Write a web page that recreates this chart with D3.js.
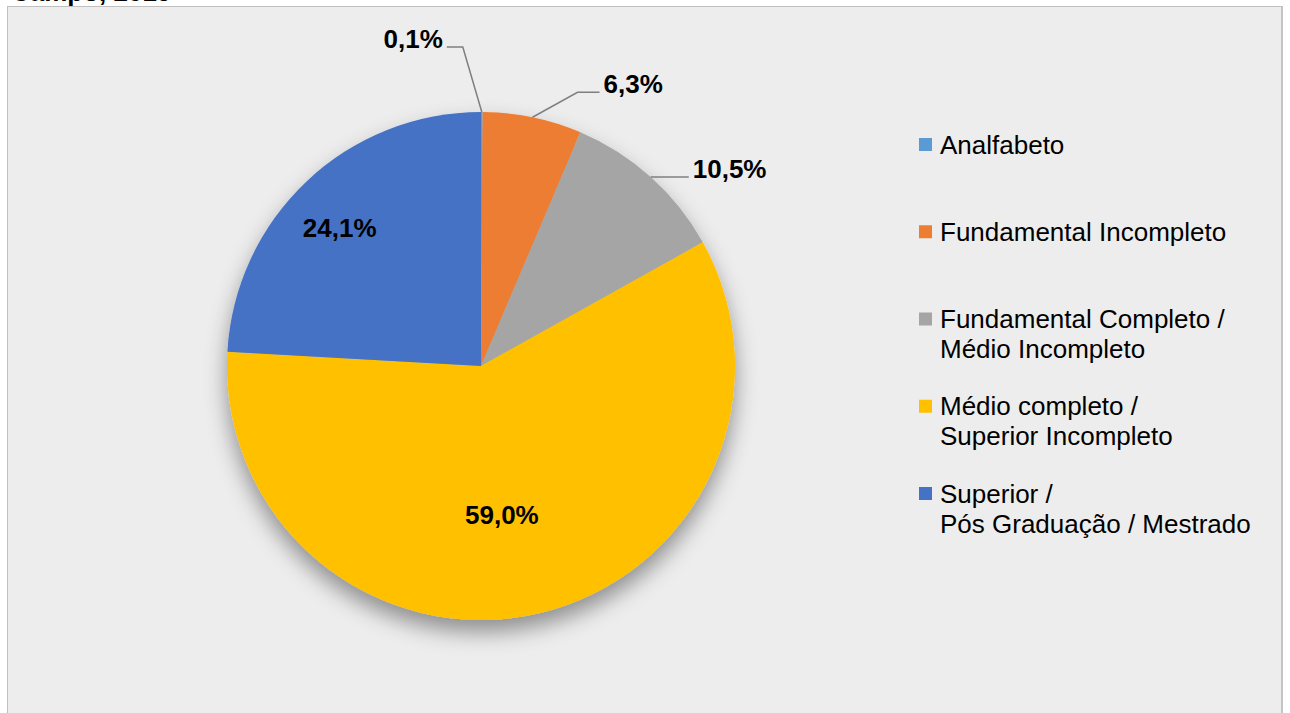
<!DOCTYPE html>
<html lang="pt-BR">
<head>
<meta charset="UTF-8">
<title>Escolaridade</title>
<script src="https://d3js.org/d3.v7.min.js"></script>
<style>
  body { margin: 0; background: #fff; }
  text { font-family: "Liberation Sans", Arial, sans-serif; fill: #000; }
</style>
</head>
<body>
<script>
// dados
var categorias = ["Analfabeto", "Fundamental Incompleto", "Fundamental Completo / Médio Incompleto",
                  "Médio completo / Superior Incompleto", "Superior / Pós Graduação / Mestrado"];
var linhasLegenda = [["Analfabeto"], ["Fundamental Incompleto"], ["Fundamental Completo /", "Médio Incompleto"],
                     ["Médio completo /", "Superior Incompleto"], ["Superior /", "Pós Graduação / Mestrado"]];
var valores = [0.1, 6.3, 10.5, 59.0, 24.1];
var cores = ["#5b9bd5", "#ed7d31", "#a5a5a5", "#ffc000", "#4472c4"];
var titulo = "Campo, 2019";

var width = 1290, height = 713;
var cx = 481, cy = 366, R = 254;

// posicionamento dos rótulos (estilo Excel)
var rotulos = [
  { fora: true, dx: -19, dy: -65, h: -16 },
  { fora: true, dx: 45, dy: -25, h: 22 },
  { fora: true, dx: 0, dy: 0, h: 38 },
  { fora: false, r: 151, dx: -13, dy: 2 },
  { fora: false, r: 197, dx: -6, dy: 5 }
];

var pt = d3.formatLocale({ decimal: ",", thousands: ".", grouping: [3], currency: ["R$", ""] });
var fmt = pt.format(".1f");

var svg = d3.select("body").append("svg")
    .attr("width", width)
    .attr("height", height);

var defs = svg.append("defs");
var sombra = defs.append("filter").attr("id", "sombra")
    .attr("x", "-30%").attr("y", "-30%").attr("width", "160%").attr("height", "160%");
sombra.append("feDropShadow")
    .attr("dx", 0).attr("dy", 12).attr("stdDeviation", 11)
    .attr("flood-color", "#000").attr("flood-opacity", 0.4);

// área do gráfico
svg.append("rect")
    .attr("x", 7.5).attr("y", 6.5)
    .attr("width", 1274).attr("height", 740)
    .attr("fill", "#ededed")
    .attr("stroke", "#c0c0c0")
    .attr("stroke-width", 1);
svg.append("line")
    .attr("x1", 1282).attr("x2", 1282).attr("y1", 6).attr("y2", height)
    .attr("stroke", "#c4c4c4").attr("stroke-width", 2);

// título (cortado no topo, como no original)
svg.append("text")
    .attr("x", 11).attr("y", 1)
    .style("font-size", "26px").style("font-weight", "bold")
    .text(titulo);

var pie = d3.pie().sort(null).value(function(d) { return d; });
var arcs = pie(valores);
var arc = d3.arc().innerRadius(0).outerRadius(R);
var borda = d3.arc().innerRadius(R).outerRadius(R);

var g = svg.append("g").attr("transform", "translate(" + cx + "," + cy + ")");

var gp = g.append("g").attr("filter", "url(#sombra)");
gp.selectAll("path")
    .data(arcs)
    .enter()
    .append("path")
    .attr("d", arc)
    .attr("fill", function(d, i) { return cores[i]; });

// rótulos
arcs.forEach(function(d, i) {
  var cfg = rotulos[i];
  var txt = fmt(valores[i]) + "%";
  if (cfg.fora) {
    var p0 = borda.centroid(d);
    var p1 = [p0[0] + cfg.dx, p0[1] + cfg.dy];
    var p2 = [p1[0] + cfg.h, p1[1]];
    g.append("polyline")
      .attr("points", [p0, p1, p2].map(function(p) { return p.join(","); }).join(" "))
      .attr("fill", "none")
      .attr("stroke", "#7f7f7f")
      .attr("stroke-width", 1.5);
    g.append("text")
      .attr("x", p2[0] + (cfg.h < 0 ? -4 : 4))
      .attr("y", p2[1] + 1)
      .attr("text-anchor", cfg.h < 0 ? "end" : "start")
      .style("font-size", "26px").style("font-weight", "bold")
      .text(txt);
  } else {
    var c = d3.arc().innerRadius(cfg.r).outerRadius(cfg.r).centroid(d);
    g.append("text")
      .attr("x", c[0] + cfg.dx)
      .attr("y", c[1] + cfg.dy + 9)
      .attr("text-anchor", "middle")
      .style("font-size", "26px").style("font-weight", "bold")
      .text(txt);
  }
});

// legenda
var legY = d3.scalePoint().domain(d3.range(categorias.length)).range([144.5, 493.5]);
var leg = svg.append("g");
var item = leg.selectAll("g")
    .data(categorias)
    .enter()
    .append("g")
    .attr("transform", function(d, i) { return "translate(919," + legY(i) + ")"; });
item.append("rect")
    .attr("x", 0).attr("y", -6.5)
    .attr("width", 13).attr("height", 13)
    .attr("fill", function(d, i) { return cores[i]; });
item.each(function(d, i) {
  var t = d3.select(this).append("text")
      .attr("x", 21).attr("y", 9)
      .style("font-size", "26px");
  linhasLegenda[i].forEach(function(l, k) {
    t.append("tspan").attr("x", 21).attr("dy", k === 0 ? 0 : 30).text(l);
  });
});
</script>
</body>
</html>
